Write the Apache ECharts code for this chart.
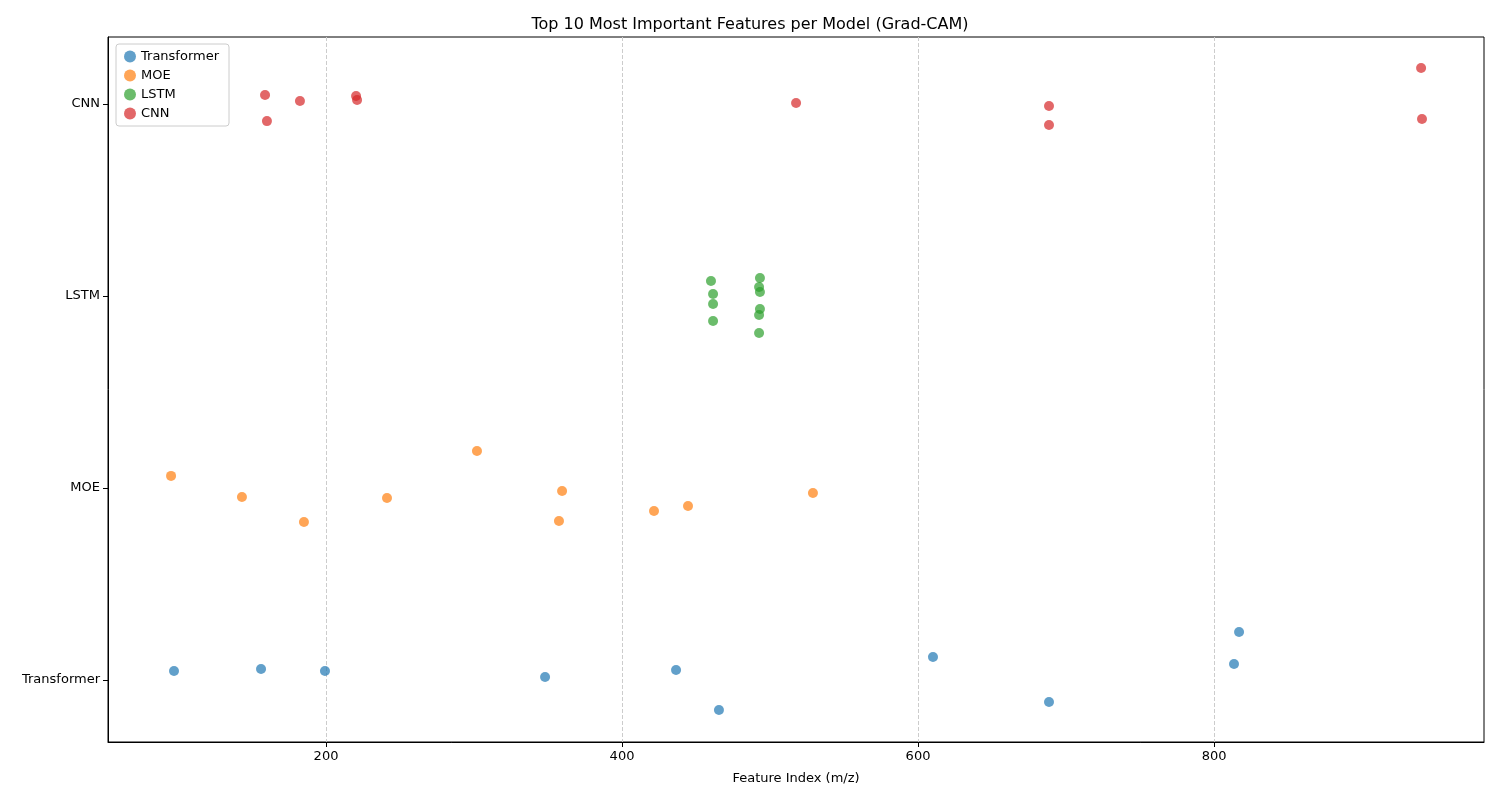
<!DOCTYPE html>
<html><head><meta charset="utf-8">
<script src="https://cdn.jsdelivr.net/npm/echarts@6/dist/echarts.min.js"></script>
<style>body{margin:0}#main{width:1500px;height:800px}</style></head>
<body><div id="main"></div>
<script>
var models = ['Transformer', 'MOE', 'LSTM', 'CNN'];
var colors = ['#1f77b4', '#ff7f0e', '#2ca02c', '#d62728'];
var xTicks = [200, 400, 600, 800];

var transformerPts = [[97.3,0.047],[156.1,0.057],[199.3,0.047],[348,0.016],[436.5,0.052],[465.5,-0.156],[610.1,0.12],[688.5,-0.115],[813.5,0.083],[816.9,0.25]];
var moePts = [[95.3,1.063],[143.2,0.953],[185.1,0.823],[241.2,0.948],[302,1.193],[359.5,0.984],[357.4,0.828],[421.6,0.88],[444.6,0.906],[529,0.974]];
var lstmPts = [[460.1,2.078],[461.5,2.01],[461.5,1.958],[461.5,1.87],[493.2,2.094],[492.6,2.047],[493.2,2.021],[493.2,1.932],[492.6,1.901],[492.6,1.807]];
var cnnPts = [[158.8,3.047],[160.1,2.911],[182.4,3.016],[220.3,3.042],[221,3.021],[517.6,3.005],[688.5,2.99],[688.5,2.891],[939.9,3.188],[940.5,2.922]];

var allPts = [transformerPts, moePts, lstmPts, cnnPts];
var font = 'DejaVu Sans';

var myChart = echarts.init(document.getElementById('main'));
var option = {
    animation: false,
    textStyle: {fontFamily: font},
    title: {text: 'Top 10 Most Important Features per Model (Grad-CAM)', left: 'center', top: 12,
        textStyle: {fontFamily: font, fontSize: 16, fontWeight: 'normal', color: '#000'}},
    legend: {left: 116, top: 44, orient: 'vertical', itemGap: 6, itemWidth: 12, itemHeight: 12,
        borderColor: '#ccc', borderWidth: 1, borderRadius: 3, padding: [6, 10, 6, 8],
        textStyle: {fontFamily: font, fontSize: 13, color: '#000'}, data: models},
    grid: {left: 108, right: 16, top: 37, bottom: 58, show: true, borderColor: '#000', borderWidth: 1},
    xAxis: {
        type: 'value', min: 52.7, max: 982.4,
        name: 'Feature Index (m/z)', nameLocation: 'middle', nameGap: 30,
        nameTextStyle: {fontFamily: font, fontSize: 13, color: '#000'},
        axisLine: {onZero: false, lineStyle: {color: '#000'}},
        axisTick: {show: true, customValues: xTicks, lineStyle: {color: '#000'}},
        axisLabel: {customValues: xTicks, color: '#000', fontSize: 13, fontFamily: font},
        splitLine: {show: true, lineStyle: {type: 'dashed', color: '#ccc'}}
    },
    yAxis: {
        type: 'value', min: -0.323, max: 3.349,
        axisLine: {show: true, onZero: false, lineStyle: {color: '#000'}},
        axisTick: {show: true, customValues: [0, 1, 2, 3], lineStyle: {color: '#000'}},
        axisLabel: {customValues: [0, 1, 2, 3], color: '#000', fontSize: 13, fontFamily: font,
            formatter: function (v) { return models[Math.round(v)]; }},
        splitLine: {show: false}
    },
    series: models.map(function (m, i) {
        return {name: m, type: 'scatter', data: allPts[i], symbolSize: 10,
            itemStyle: {color: colors[i], opacity: 0.7}};
    })
};
myChart.setOption(option);
</script></body></html>
